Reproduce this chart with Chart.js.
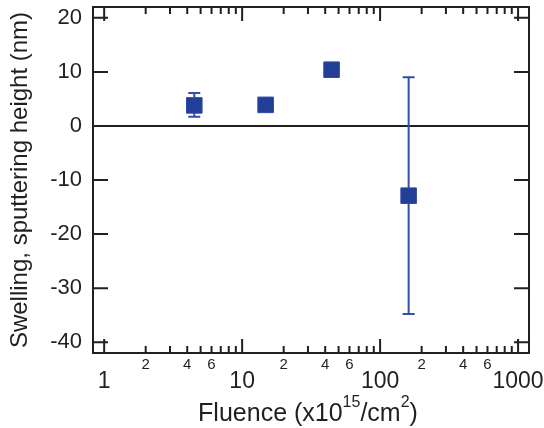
<!DOCTYPE html>
<html>
<head>
<meta charset="utf-8">
<script src="https://cdn.jsdelivr.net/npm/chart.js@4.4.0/dist/chart.umd.min.js"></script>
<style>
  html, body { margin: 0; padding: 0; background: #fff; }
  #wrap { width: 544px; height: 428px; }
</style>
</head>
<body>
<div id="wrap"><canvas id="c"></canvas></div>
<script>
// values
const fluence = [4.5, 14.8, 44.5, 161];
const height = [3.8, 3.9, 10.4, -12.9];
const errLow = [1.7, null, null, -34.8];
const errHigh = [6.1, null, null, 9.0];

const yTicks = [-40, -30, -20, -10, 0, 10, 20];
const xTicks = [1, 2, 3, 4, 5, 6, 7, 8, 9,
                10, 20, 30, 40, 50, 60, 70, 80, 90,
                100, 200, 300, 400, 500, 600, 700, 800, 900, 1000];
const xMajor = [1, 10, 100, 1000];
const xMinorLabeled = [2, 4, 6, 20, 40, 60, 200, 400, 600];

const FONT = "'Liberation Sans', Arial, sans-serif";
const INK = '#231f20';
const BLUE = '#223f98';

function noPad(s) {
  s.paddingTop = 0; s.paddingBottom = 0; s.paddingLeft = 0; s.paddingRight = 0;
}

const axisDecor = {
  id: 'axisDecor',
  beforeDatasetsDraw(chart) {
    const { ctx, scales: { x, y } } = chart;
    ctx.save();
    ctx.strokeStyle = '#3150a8';
    ctx.lineWidth = 2;
    for (let i = 0; i < fluence.length; i++) {
      if (errLow[i] == null) continue;
      const px = x.getPixelForValue(fluence[i]);
      const lo = y.getPixelForValue(errLow[i]);
      const hi = y.getPixelForValue(errHigh[i]);
      ctx.beginPath();
      ctx.moveTo(px, lo); ctx.lineTo(px, hi);
      ctx.moveTo(px - 6, lo); ctx.lineTo(px + 6, lo);
      ctx.moveTo(px - 6, hi); ctx.lineTo(px + 6, hi);
      ctx.stroke();
    }
    ctx.restore();
  },
  afterDraw(chart) {
    const { ctx, chartArea: a, scales: { x, y } } = chart;
    ctx.save();
    ctx.strokeStyle = INK;
    ctx.lineWidth = 2;
    ctx.strokeRect(a.left, a.top, a.right - a.left, a.bottom - a.top);

    // inside ticks on all four sides
    ctx.beginPath();
    y.ticks.forEach(t => {
      const py = y.getPixelForValue(t.value);
      ctx.moveTo(a.left, py); ctx.lineTo(a.left + 15, py);
      ctx.moveTo(a.right, py); ctx.lineTo(a.right - 15, py);
    });
    x.ticks.forEach(t => {
      const px = x.getPixelForValue(t.value);
      const len = xMajor.includes(t.value) ? 14 : 7;
      ctx.moveTo(px, a.bottom); ctx.lineTo(px, a.bottom - len);
      ctx.moveTo(px, a.top); ctx.lineTo(px, a.top + len);
    });
    ctx.stroke();

    // x axis title with superscripts
    const parts = [
      ['Fluence (x10', 25, 0], ['15', 16, -14], ['/cm', 25, 0], ['2', 16, -14], [')', 25, 0]
    ];
    let w = 0;
    parts.forEach(p => { ctx.font = p[1] + 'px ' + FONT; w += ctx.measureText(p[0]).width; });
    let cx = 308 - w / 2;
    const base = 421;
    ctx.fillStyle = INK;
    ctx.textBaseline = 'alphabetic';
    ctx.textAlign = 'left';
    parts.forEach(p => {
      ctx.font = p[1] + 'px ' + FONT;
      ctx.fillText(p[0], cx, base + p[2]);
      cx += ctx.measureText(p[0]).width;
    });
    ctx.restore();
  }
};

new Chart(document.getElementById('c'), {
  type: 'scatter',
  data: {
    datasets: [{
      data: fluence.map((v, i) => ({ x: v, y: height[i] })),
      pointStyle: 'rect',
      pointRadius: 11,
      backgroundColor: BLUE,
      borderColor: '#2c4aa6',
      borderWidth: 1
    }]
  },
  options: {
    responsive: true,
    maintainAspectRatio: false,
    animation: false,
    events: [],
    layout: { autoPadding: false, padding: { top: 7, right: 15, left: 0, bottom: 0 } },
    plugins: { legend: { display: false }, tooltip: { enabled: false } },
    scales: {
      x: {
        type: 'logarithmic',
        min: 0.83,
        max: 1200,
        afterBuildTicks: s => { s.ticks = xTicks.map(v => ({ value: v, major: xMajor.includes(v) })); },
        afterFit: s => { s.height = 75; noPad(s); },
        grid: { display: false, drawTicks: false },
        border: { display: false },
        ticks: {
          autoSkip: false,
          maxRotation: 0,
          padding: 3,
          color: INK,
          font: c => xMajor.includes(c.tick && c.tick.value)
            ? { family: FONT, size: 23, lineHeight: 2.22 }
            : { family: FONT, size: 15, lineHeight: 1.2 },
          callback: v => xMajor.includes(v) ? String(v) : (xMinorLabeled.includes(v) ? String(v)[0] : '')
        }
      },
      y: {
        min: -42,
        max: 22,
        afterBuildTicks: s => { s.ticks = yTicks.map(v => ({ value: v })); },
        afterFit: s => { s.width = 93; noPad(s); },
        grid: {
          drawTicks: false,
          lineWidth: 2,
          color: c => (c.tick && c.tick.value === 0) ? INK : 'rgba(0,0,0,0)'
        },
        border: { display: false },
        ticks: { padding: 11, color: INK, font: { family: FONT, size: 22 } },
        title: {
          display: true,
          text: 'Swelling, sputtering height (nm)',
          color: INK,
          font: { family: FONT, size: 24 },
          padding: { top: 6, bottom: 0 }
        }
      }
    }
  },
  plugins: [axisDecor]
});
</script>
</body>
</html>
